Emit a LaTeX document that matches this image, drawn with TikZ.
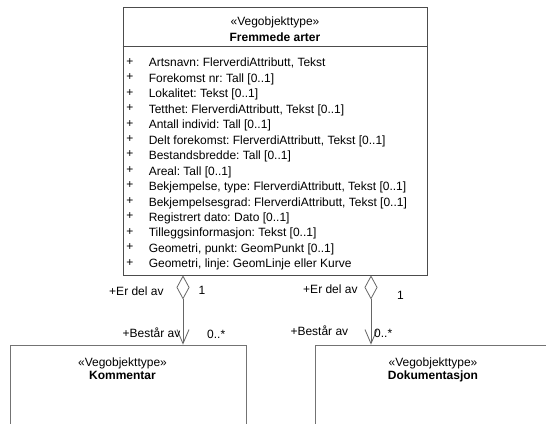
\documentclass[tikz,border=0pt]{standalone}
\usepackage{fontspec}
\setmainfont{Liberation Sans}
\frenchspacing
\usetikzlibrary{arrows.meta,positioning}

\begin{document}
\begin{tikzpicture}[
    x=1pt, y=-1pt,
    font=\fontsize{12}{15.45}\selectfont,
    classbox/.style={
      rectangle,
      draw=black!70,
      line width=0.8pt,
      inner sep=0pt
    },
    classname/.style={
      align=center,
      inner sep=0pt
    },
    attrlist/.style={
      align=left,
      inner sep=0pt,
      execute at begin node=\strut
    },
    role/.style={
      inner sep=0pt
    },
    aggregation/.style={
      draw=black!60,
      line width=0.8pt,
      arrows={Diamond[open,length=24pt,width=13pt]-Straight Barb[length=14pt,width=12pt]}
    },
]

\useasboundingbox (0,0) rectangle (546,423);
\clip (0,0) rectangle (546,423);

% main class
\node[classbox, minimum width=304pt, minimum height=268pt] (arter) at (275,141) {};
\draw[draw=black!70, line width=0.8pt] ([yshift=-40pt]arter.north west) coordinate (split) -- ([yshift=-40pt]arter.north east);
\node[classname, below=10.4pt of arter.north] (arterhead) {«Vegobjekttype»\\\textbf{Fremmede arter}};

\node[attrlist, below right=11.5pt and 3.5pt of split] (plus) {+\\+\\+\\+\\+\\+\\+\\+\\+\\+\\+\\+\\+\\+};
\node[attrlist, below right=11.5pt and 26pt of split] (attrs) {Artsnavn: FlerverdiAttributt, Tekst
\\ Forekomst nr: Tall [0..1]
\\ Lokalitet: Tekst [0..1]
\\ Tetthet: FlerverdiAttributt, Tekst [0..1]
\\ Antall individ: Tall [0..1]
\\ Delt forekomst: FlerverdiAttributt, Tekst [0..1]
\\ Bestandsbredde: Tall [0..1]
\\ Areal: Tall [0..1]
\\ Bekjempelse, type: FlerverdiAttributt, Tekst [0..1]
\\ Bekjempelsesgrad: FlerverdiAttributt, Tekst [0..1]
\\ Registrert dato: Dato [0..1]
\\ Tilleggsinformasjon: Tekst [0..1]
\\ Geometri, punkt: GeomPunkt [0..1]
\\ Geometri, linje: GeomLinje eller Kurve};

% parts
\node[classbox, draw=black!55, minimum width=236pt, minimum height=130pt] (kommentar) at (128,410) {};
\node[classname, below=12.6pt of kommentar.north, xshift=-5.5pt] (kommentarhead) {«Vegobjekttype»\\[-1.8pt]\textbf{Kommentar}};

\node[classbox, draw=black!55, minimum width=236pt, minimum height=130pt] (dokumentasjon) at (433,410) {};
\node[classname, below=12.6pt of dokumentasjon.north] (dokumentasjonhead) {«Vegobjekttype»\\[-1.8pt]\textbf{Dokumentasjon}};

% aggregations
\coordinate (agg1) at ([xshift=-92pt]arter.south);
\coordinate (agg2) at ([xshift=96pt]arter.south);
\draw[aggregation] (agg1) -- (agg1 |- kommentar.north);
\draw[aggregation] (agg2) -- (agg2 |- dokumentasjon.north);

\node[role, anchor=base east] (erdel1) at ([shift={(-19.2,20)}]agg1) {+Er del av};
\node[role, anchor=base west] (one1) at ([shift={(15.5,19)}]agg1) {1};
\node[role, anchor=base east] (bestar1) at ([shift={(-2.5,62)}]agg1) {+Består av};
\node[role, anchor=base west] (many1) at ([shift={(24,63)}]agg1) {0..*};

\node[role, anchor=base east] (erdel2) at ([shift={(-13.2,18.5)}]agg2) {+Er del av};
\node[role, anchor=base west] (one2) at ([shift={(25.8,24.5)}]agg2) {1};
\node[role, anchor=base east] (bestar2) at ([shift={(-22.6,60.5)}]agg2) {+Består av};
\node[role, anchor=base west] (many2) at ([shift={(3,62.5)}]agg2) {0..*};

\end{tikzpicture}
\end{document}
